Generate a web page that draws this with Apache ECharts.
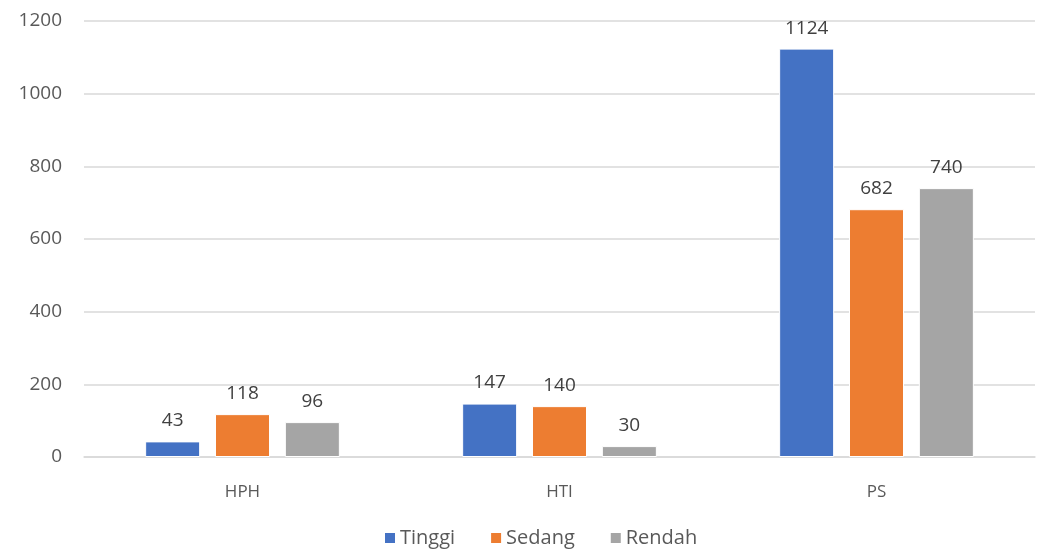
<!DOCTYPE html>
<html><head><meta charset="utf-8">
<script src="https://cdn.jsdelivr.net/npm/echarts@6/dist/echarts.min.js"></script>
<style>html,body{margin:0;padding:0;background:#fff}#c{width:1038px;height:554px}</style>
</head><body><div id="c"></div>
<script>
const categories = ['HPH', 'HTI', 'PS'];
const seriesNames = ['Tinggi', 'Sedang', 'Rendah'];
const tinggi = [43, 147, 1124];
const sedang = [118, 140, 682];
const rendah = [96, 30, 740];
const colors = ['#4472C4', '#ED7D31', '#A5A5A5'];
const font = '"Open Sans", "Liberation Sans", sans-serif';
const chart = echarts.init(document.getElementById('c'));
const mk = (name, data, i) => ({
  name, type: 'bar', data, barWidth: 55, barGap: '27%',
  itemStyle: { color: colors[i], borderColor: '#fff', borderWidth: 1 },
  label: { show: true, position: 'top', distance: 11, color: '#404040', fontSize: 19, fontFamily: font }
});
chart.setOption({
  animation: false,
  grid: { left: 84, right: 3, top: 21, bottom: 97, containLabel: false },
  legend: {
    bottom: 6, left: 383, padding: 0, itemWidth: 12, itemHeight: 12, itemGap: 34,
    icon: 'rect',
    textStyle: { color: '#595959', fontSize: 20, fontFamily: font, padding: [0, 0, 0, -1] },
    data: seriesNames
  },
  xAxis: {
    type: 'category', data: categories,
    axisLine: { lineStyle: { color: '#d9d9d9', width: 1.5 } },
    axisTick: { show: false },
    axisLabel: { color: '#595959', fontSize: 17, fontFamily: font, margin: 27 }
  },
  yAxis: {
    type: 'value', min: 0, max: 1200, interval: 200,
    axisLine: { show: false }, axisTick: { show: false },
    splitLine: { lineStyle: { color: '#d9d9d9', width: 1.5 } },
    axisLabel: { color: '#595959', fontSize: 19, fontFamily: font, margin: 22, formatter: v => String(v) }
  },
  series: [mk(seriesNames[0], tinggi, 0), mk(seriesNames[1], sedang, 1), mk(seriesNames[2], rendah, 2)]
});
</script></body></html>
